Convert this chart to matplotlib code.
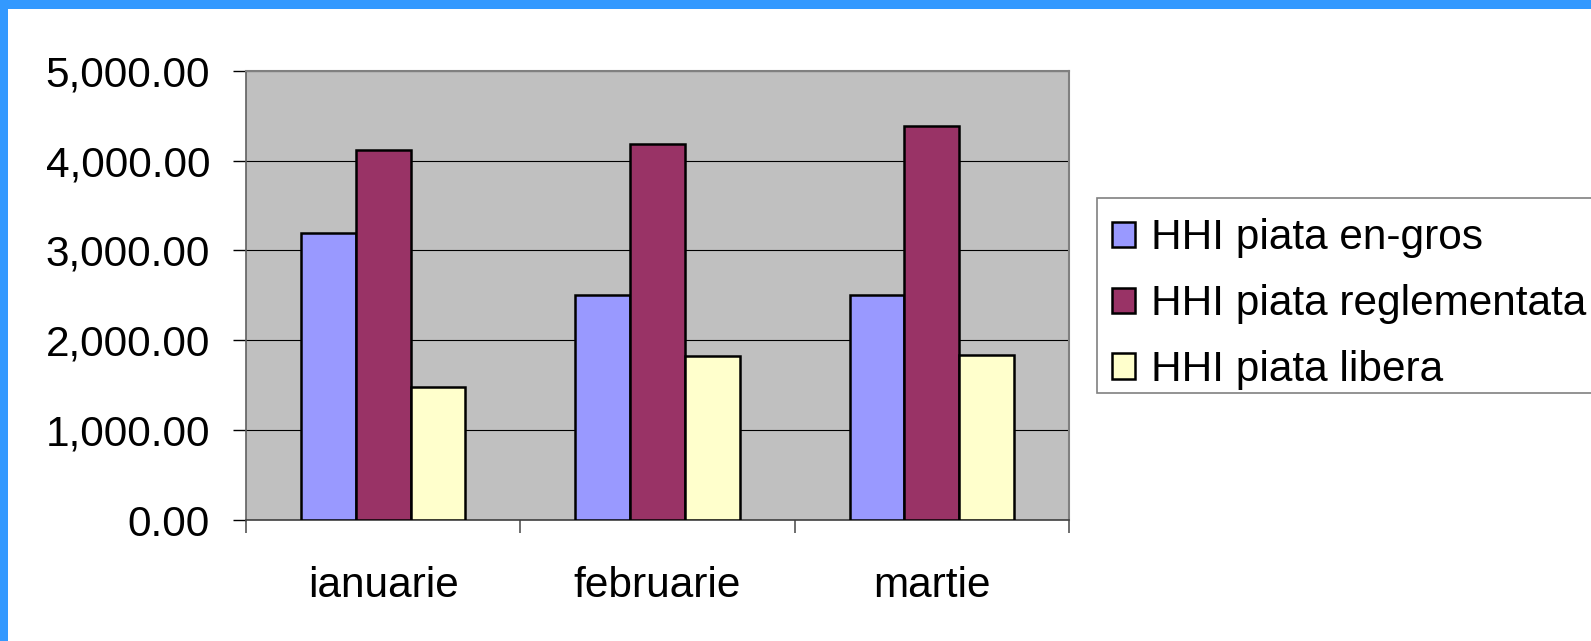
import matplotlib
matplotlib.use("Agg")
import matplotlib.pyplot as plt
from matplotlib.patches import Rectangle, Patch
import numpy as np

categories = ["ianuarie", "februarie", "martie"]
series_names = ["HHI piata en-gros", "HHI piata reglementata", "HHI piata libera"]
en_gros = [3190, 2500, 2500]
reglementata = [4120, 4180, 4390]
libera = [1480, 1830, 1835]
y_ticks = [0, 1000, 2000, 3000, 4000, 5000]
y_tick_labels = ["0.00", "1,000.00", "2,000.00", "3,000.00", "4,000.00", "5,000.00"]

colors = ["#9999FF", "#993366", "#FFFFCC"]

plt.rcParams['font.family'] = ['Liberation Sans', 'DejaVu Sans']
FS = 30.5

W, H = 1591, 641
fig = plt.figure(figsize=(W / 100, H / 100), dpi=100)
fig.patch.set_facecolor("white")

ax = fig.add_axes([246 / W, 1 - 520 / H, (1069 - 246) / W, (520 - 70.7) / H])
ax.set_facecolor("#C0C0C0")

x = np.arange(len(categories))
bw = 0.2
for j, vals in enumerate([en_gros, reglementata, libera]):
    ax.bar(x + (j - 1) * bw, vals, width=bw, color=colors[j], edgecolor="black",
           linewidth=1.8, zorder=3, label=series_names[j])

ax.set_xlim(-0.5, len(categories) - 0.5)
ax.set_ylim(0, 5000)

ax.set_yticks(y_ticks)
ax.set_yticklabels(y_tick_labels, fontsize=FS)
ax.yaxis.grid(True, color="black", linewidth=0.8, zorder=1)
ax.set_axisbelow(True)

ax.set_xticks(np.arange(-0.5, len(categories)), minor=False)
ax.set_xticklabels([])
ax.set_xticks(x, minor=True)
ax.set_xticklabels(categories, minor=True, fontsize=FS)
ax.tick_params(axis="x", which="major", length=9.4, width=1.2, color="#555555", direction="out")
ax.tick_params(axis="x", which="minor", length=0, pad=33.3)
ax.tick_params(axis="y", length=9.4, width=1.0, color="black", direction="out", pad=16.5)

for s in ["top", "right"]:
    ax.spines[s].set_color("#808080")
    ax.spines[s].set_linewidth(1.5)
ax.spines["left"].set_color("#606060")
ax.spines["left"].set_linewidth(1.2)
ax.spines["bottom"].set_color("#404040")
ax.spines["bottom"].set_linewidth(1.2)

# blue border
fig.patches.append(Rectangle((0, 1 - 9 / H), 1, 9 / H, transform=fig.transFigure,
                             facecolor="#3399FF", edgecolor="none", zorder=10))
fig.patches.append(Rectangle((0, 0), 8 / W, 1, transform=fig.transFigure,
                             facecolor="#3399FF", edgecolor="none", zorder=10))

# legend frame
fig.patches.append(Rectangle((1097 / W, 1 - 392.7 / H), (1600 - 1097) / W, 195 / H,
                             transform=fig.transFigure, facecolor="white",
                             edgecolor="#808080", linewidth=1.2, zorder=1))

handles = [Patch(facecolor=c, edgecolor="black", linewidth=1.8) for c in colors]
leg = fig.legend(handles, series_names, loc="upper left",
                 bbox_to_anchor=(1112 / W, 1 - 218.5 / H), frameon=False,
                 fontsize=FS, handlelength=0.55, handleheight=0.55,
                 handletextpad=0.38, labelspacing=0.61, borderpad=0, borderaxespad=0)
leg.set_zorder(5)

fig.savefig("out.png", dpi=100)
